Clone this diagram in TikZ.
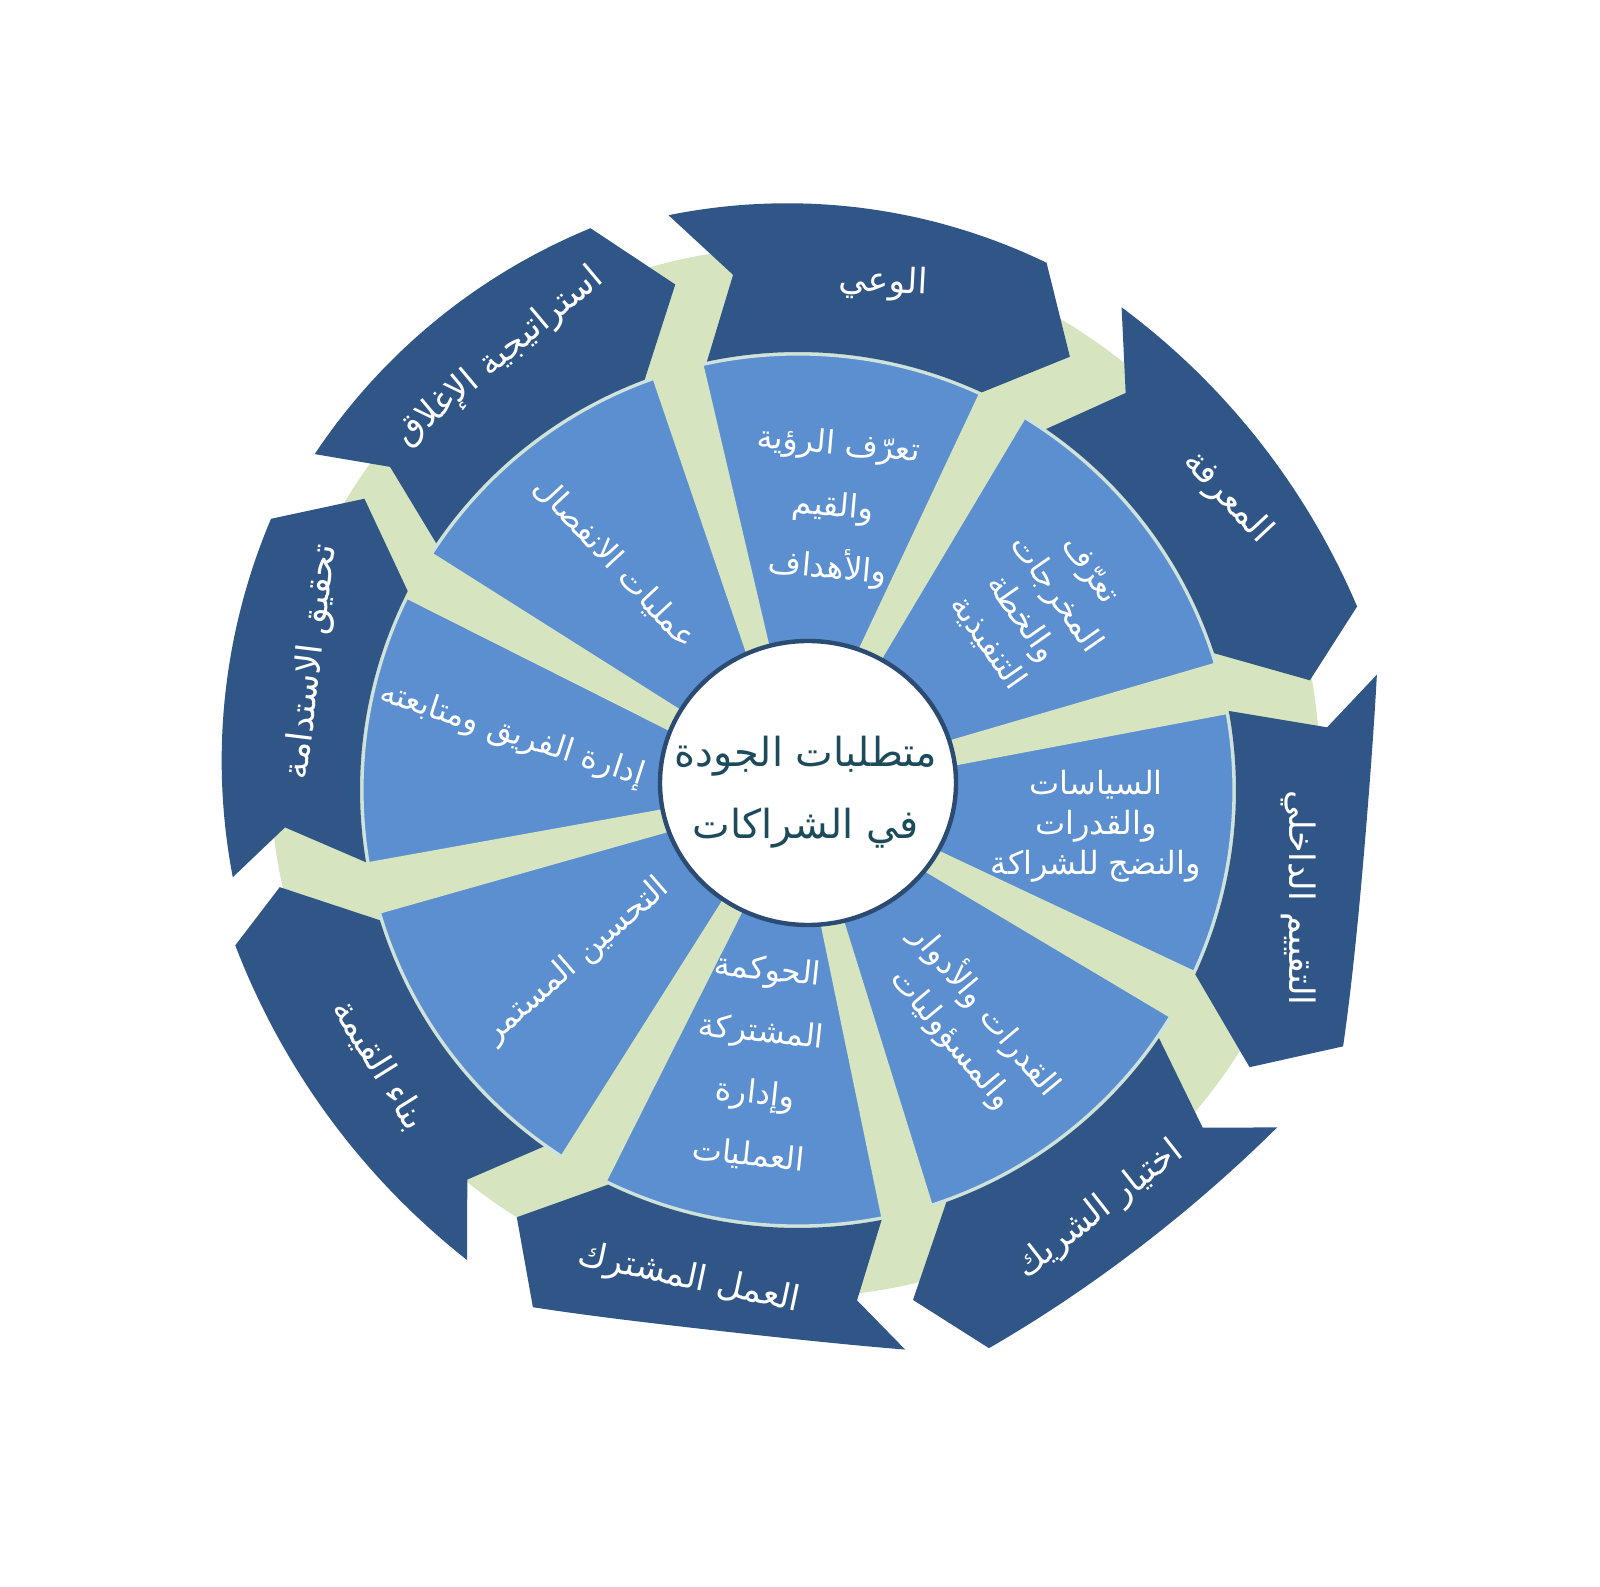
\documentclass[tikz,border=0pt]{standalone}
\usepackage{fontspec}
\newfontfamily\arabicfont[Script=Arabic]{DejaVu Sans}
\TeXXeTstate=1
\usetikzlibrary{calc}
\definecolor{segblue}{HTML}{305687}
\definecolor{wedgeblue}{HTML}{5B8FCF}
\definecolor{gapgreen}{HTML}{D6E4C0}
\definecolor{rimline}{HTML}{CFE2DC}
\definecolor{hubline}{HTML}{2B4B73}
\definecolor{hubtext}{HTML}{1D4B5B}
\newcommand\ar[1]{\beginR #1\endR}
\begin{document}
\begin{tikzpicture}[x=0.5pt,y=0.5pt,
  outerlabel/.style={text=white,inner sep=0pt,font=\arabicfont\fontsize{17.5}{22}\selectfont},
  innerlabel/.style={text=white,inner sep=0pt,align=center,font=\arabicfont\fontsize{16}{22}\selectfont},
  hubstyle/.style={fill=white,draw=hubline,line width=2.2pt}]
\useasboundingbox (0,0) rectangle (1600,1586);
\coordinate (O1) at (795,814);
\coordinate (O2) at (798,796);
% green background disk
\fill[gapgreen] (O1) circle (525);
% light wedge disk
\fill[wedgeblue] (O2) circle (436);
\draw[rimline,line width=1.6pt] (O2) circle (436);
% green radial gaps
\foreach \a in {106,62,13.5,-28,-75.5,-119.5,-167,150.5}{
  \fill[gapgreen] ($(O2)+(\a:100)+(\a+90:10)$) -- ($(O2)+(\a:447)+(\a+90:27)$)
     -- ($(O2)+(\a:447)+(\a-90:27)$) -- ($(O2)+(\a:100)+(\a-90:10)$) -- cycle;
}
% dark chevron segments: Tin/Tout/rt/notch angle/notch r/rmid/Hout/rh/tip angle/tip r/Hin
\foreach \Ti/\To/\rt/\Na/\rN/\rmd/\Ho/\rh/\Pa/\rP/\Hi in {
   102/102.8/571/97.1/501/568/63.7/568/56.5/498/65.2,
   55.5/54.9/568/48.9/503/570/16.4/586/10.1/523/18.2,
   10.4/9.5/590/4.8/534/575/-26.6/613/-33/542/-24.9,
   -34.5/-36.4/599/-41.1/541/587/-71.4/608/-77.4/541/-70.2,
   -79/-79.2/588/-83.3/532/564/-116.1/596/-122/525/-115.7,
   -125.5/-123.9/588/-128.8/523/580/-162.8/586/-167.4/528/-162.7,
   -170.5/-169.4/572/-173.8/513/575/-205.8/582/-212.4/510/-207,
   -214.3/-213.5/576/-217/507/577/-249.4/581/-256.2/502/-249.5}{
  \pgfmathsetmacro\Sp{\To-\Ho}
  \pgfmathsetmacro\Si{\Ti-\Hi}
  \pgfmathsetmacro\Aq{(\rh-\rt)/2}
  \pgfmathsetmacro\Bq{(\rh+\rt)/2-\rmd}
  \fill[segblue]
    ({798+438*cos(\Ti)},{796+438*sin(\Ti)})
    -- ({795+\rN*cos(\Na)},{814+\rN*sin(\Na)})
    -- ({795+\rt*cos(\To)},{814+\rt*sin(\To)})
    -- plot[domain=0:1,samples=36,variable=\vv] ({795+(\rmd+\Aq*(2*\vv-1)+\Bq*(2*\vv-1)*(2*\vv-1))*cos(\To-\Sp*\vv)},{814+(\rmd+\Aq*(2*\vv-1)+\Bq*(2*\vv-1)*(2*\vv-1))*sin(\To-\Sp*\vv)})
    -- ({795+\rP*cos(\Pa)},{814+\rP*sin(\Pa)})
    -- ({798+438*cos(\Hi)},{796+438*sin(\Hi)})
    -- plot[domain=0:1,samples=36,variable=\vv] ({798+438*cos(\Hi+\Si*\vv)},{796+438*sin(\Hi+\Si*\vv)})
    -- cycle;
}
% hub
\draw[hubstyle] (808,803) ellipse [x radius=148, y radius=142];
\node[text=hubtext,inner sep=0pt,align=center,font=\arabicfont\fontsize{20}{36}\selectfont] (hub) at (806,794) {\ar{متطلبات الجودة}\\\ar{في الشراكات}};
% inner labels
\node[innerlabel,rotate=-5,font=\arabicfont\fontsize{16}{31}\selectfont] (w1) at (833,1078) {\ar{تعرّف الرؤية}\\\ar{والقيم}\\\ar{والأهداف}};
\node[innerlabel,rotate=-55,font=\arabicfont\fontsize{16}{21}\selectfont] (w2) at (1038,979) {\ar{تعرّف}\\\ar{المخرجات}\\\ar{والخطة}\\\ar{التنفيذية}};
\node[innerlabel,font=\arabicfont\fontsize{16}{20}\selectfont] (w3) at (1096,760) {\ar{السياسات}\\\ar{والقدرات}\\\ar{والنضج للشراكة}};
\node[innerlabel,rotate=-50,font=\arabicfont\fontsize{16}{22}\selectfont] (w4) at (970,562) {\ar{القدرات والأدوار}\\\ar{والمسؤوليات}};
\node[innerlabel,rotate=-6,font=\arabicfont\fontsize{16}{31}\selectfont] (w5) at (758,523) {\ar{الحوكمة}\\\ar{المشتركة}\\\ar{وإدارة}\\\ar{العمليات}};
\node[innerlabel,rotate=41] (w6) at (577,625) {\ar{التحسين المستمر}};
\node[innerlabel,rotate=-18] (w7) at (512,851) {\ar{إدارة الفريق ومتابعته}};
\node[innerlabel,rotate=-47] (w8) at (615,1023) {\ar{عمليات الانفصال}};
% outer labels
\node[outerlabel,rotate=-3] (s1) at (883,1303) {\ar{الوعي}};
\node[outerlabel,rotate=-47] (s2) at (1227,1089) {\ar{المعرفة}};
\node[outerlabel,rotate=-90] (s3) at (1299,688) {\ar{التقييم الداخلي}};
\node[outerlabel,rotate=38] (s4) at (1100,376) {\ar{اختيار الشريك}};
\node[outerlabel,rotate=-12] (s5) at (689,307) {\ar{العمل المشترك}};
\node[outerlabel,rotate=-58] (s6) at (379,521) {\ar{بناء القيمة}};
\node[outerlabel,rotate=83] (s7) at (312,924) {\ar{تحقيق الاستدامة}};
\node[outerlabel,rotate=40] (s8) at (500,1229) {\ar{استراتيجية الإغلاق}};
\end{tikzpicture}
\end{document}
